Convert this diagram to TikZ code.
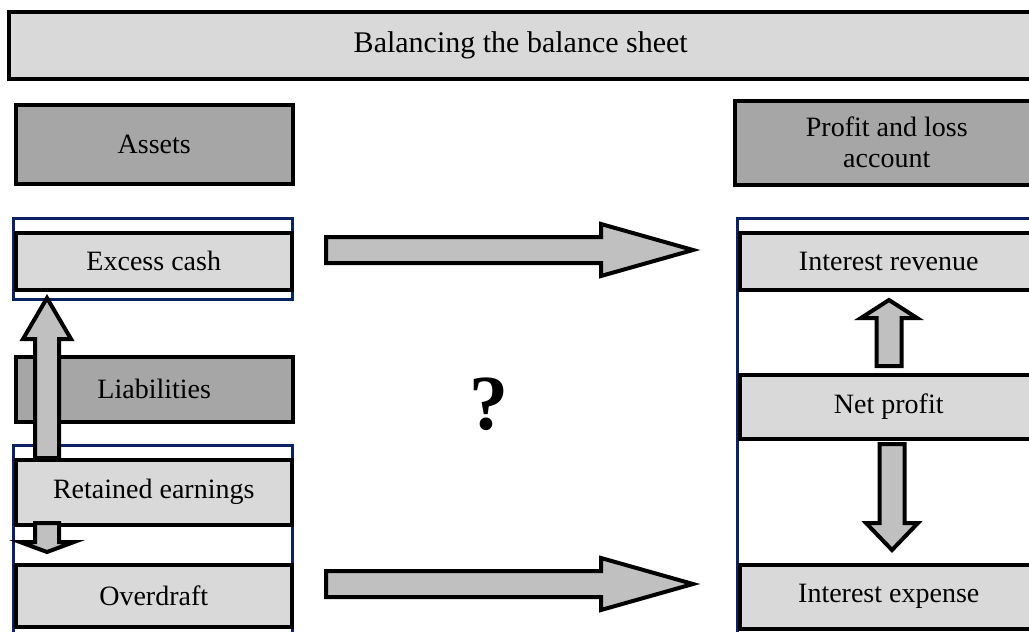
\documentclass[tikz,border=0pt]{standalone}
\usepackage{fontspec}
\setmainfont{Liberation Serif}
\usepackage{tikz}
\usetikzlibrary{calc}
\definecolor{boxgray}{RGB}{217,217,217}
\definecolor{headgray}{RGB}{166,166,166}
\definecolor{arrowgray}{RGB}{192,192,192}
\definecolor{framenavy}{RGB}{10,36,99}

% block arrow: #1 tail, #2 tip, #3 half shaft, #4 half head, #5 head length
\newcommand{\bigarrow}[5]{%
  \path ($(#2)!#5!(#1)$) coordinate (hb);
  \draw[blockarrow] ($(#1)!#3!90:(#2)$) -- ($(hb)!#3!90:(#2)$) -- ($(hb)!#4!90:(#2)$)
    -- (#2) -- ($(hb)!#4!-90:(#2)$) -- ($(hb)!#3!-90:(#2)$) -- ($(#1)!#3!-90:(#2)$) -- cycle;}

\begin{document}
\begin{tikzpicture}[x=1pt, y=-1pt,
  every node/.style={font=\fontsize{28}{31}\selectfont},
  lightbox/.style={draw, line width=3.5pt, fill=boxgray, anchor=north west, inner sep=0pt, align=center},
  headbox/.style={draw, line width=3.5pt, fill=headgray, anchor=north west, inner sep=0pt, align=center},
  frame/.style={draw=framenavy, line width=3pt},
  blockarrow/.style={draw, line width=4pt, fill=arrowgray, line join=miter}]
  \clip (0,0) rectangle (1029,632);
  \fill[white] (0,0) rectangle (1029,632);
  % ---- headings ----
  \node[lightbox, minimum width=1024pt, minimum height=67pt, font=\fontsize{30}{33}\selectfont] (title) at (7,10) {Balancing the balance sheet};
  \node[headbox, minimum width=277pt, minimum height=79pt] (assets) at (14,103) {Assets};
  \node[headbox, minimum width=304pt, minimum height=84pt] (pl) at (733,99) {Profit and loss\\account};
  \node[headbox, minimum width=277pt, minimum height=65pt] (liab) at (14,355) {Liabilities};
  % ---- frames ----
  \draw[frame] (13,218) rectangle (292,299);
  \draw[frame] (13,445) rectangle (292,640);
  \draw[frame] (737,218) rectangle (1045,640);
  % ---- left items ----
  \node[lightbox, minimum width=276pt, minimum height=57pt] (cash) at (14,231) {Excess cash};
  \node[lightbox, minimum width=276pt, minimum height=65pt] (retained) at (14,458) {Retained earnings};
  \node[lightbox, minimum width=276pt, minimum height=62pt] (overdraft) at (14,563) {Overdraft};
  % ---- right items ----
  \node[lightbox, minimum width=298pt, minimum height=57pt] (revenue) at (738,231) {Interest revenue};
  \node[lightbox, minimum width=298pt, minimum height=64pt] (netprofit) at (738,373) {Net profit};
  \node[lightbox, minimum width=298pt, minimum height=64pt] (expense) at (738,563) {Interest expense};
  % ---- question ----
  \node[font=\fontsize{78}{80}\bfseries\selectfont] (quest) at (489,404) {?};
  % ---- arrows ----
  \coordinate (upL0) at (47,458);   \coordinate (upL1) at (47,298);
  \coordinate (dnL0) at (47,523);   \coordinate (dnL1) at (47,552);
  \coordinate (upR0) at (889,366);  \coordinate (upR1) at (889,300);
  \coordinate (dnR0) at (892,444);  \coordinate (dnR1) at (892,550);
  \coordinate (topA0) at (326,250); \coordinate (topA1) at (693,250);
  \coordinate (botA0) at (326,584); \coordinate (botA1) at (693,584);
  \bigarrow{upL0}{upL1}{12pt}{24pt}{41pt}
  \bigarrow{dnL0}{dnL1}{12pt}{27pt}{10pt}
  \bigarrow{upR0}{upR1}{12.5pt}{28pt}{18pt}
  \bigarrow{dnR0}{dnR1}{12.5pt}{26pt}{27pt}
  \bigarrow{topA0}{topA1}{13pt}{26pt}{92pt}
  \bigarrow{botA0}{botA1}{13pt}{26pt}{92pt}
\end{tikzpicture}
\end{document}
